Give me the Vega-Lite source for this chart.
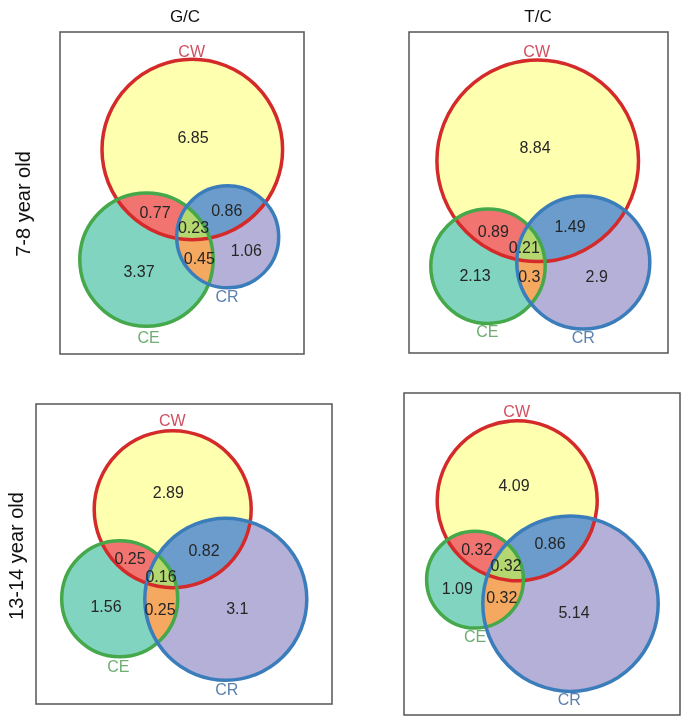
{
  "$schema": "https://vega.github.io/schema/vega-lite/v6.json",
  "width": 685,
  "height": 721,
  "padding": 0,
  "autosize": {"type": "none"},
  "background": "white",
  "config": {"view": {"stroke": null, "fill": "white"}},
  "datasets": {
    "circles": [
      {"panel": "G/C 7-8", "set": "CW", "cx": 192.3, "cy": 149.5, "r": 90.3},
      {"panel": "G/C 7-8", "set": "CE", "cx": 146.5, "cy": 259.6, "r": 66.7},
      {"panel": "G/C 7-8", "set": "CR", "cx": 227.7, "cy": 236.8, "r": 51},
      {"panel": "T/C 7-8", "set": "CW", "cx": 537.7, "cy": 160.8, "r": 100.8},
      {"panel": "T/C 7-8", "set": "CE", "cx": 488, "cy": 266.2, "r": 57.2},
      {"panel": "T/C 7-8", "set": "CR", "cx": 583.3, "cy": 262.5, "r": 66.5},
      {"panel": "G/C 13-14", "set": "CW", "cx": 172.7, "cy": 509.2, "r": 78.5},
      {"panel": "G/C 13-14", "set": "CE", "cx": 119.7, "cy": 598.7, "r": 58},
      {"panel": "G/C 13-14", "set": "CR", "cx": 225.8, "cy": 599.2, "r": 81},
      {"panel": "T/C 13-14", "set": "CW", "cx": 517.2, "cy": 500.8, "r": 80},
      {"panel": "T/C 13-14", "set": "CE", "cx": 475, "cy": 579.7, "r": 48.4},
      {"panel": "T/C 13-14", "set": "CR", "cx": 570.5, "cy": 603.7, "r": 87.7}
    ],
    "numbers": [
      {"panel": "G/C 7-8", "region": "CW", "value": 6.85, "lx": 193, "ly": 138},
      {"panel": "G/C 7-8", "region": "CW&CE", "value": 0.77, "lx": 155, "ly": 212.5},
      {"panel": "G/C 7-8", "region": "CW&CR", "value": 0.86, "lx": 226.7, "ly": 210.5},
      {"panel": "G/C 7-8", "region": "CW&CE&CR", "value": 0.23, "lx": 193.5, "ly": 228.3},
      {"panel": "G/C 7-8", "region": "CE&CR", "value": 0.45, "lx": 199.3, "ly": 259},
      {"panel": "G/C 7-8", "region": "CR", "value": 1.06, "lx": 246.3, "ly": 250.7},
      {"panel": "G/C 7-8", "region": "CE", "value": 3.37, "lx": 139, "ly": 272},
      {"panel": "T/C 7-8", "region": "CW", "value": 8.84, "lx": 535, "ly": 148.3},
      {"panel": "T/C 7-8", "region": "CW&CE", "value": 0.89, "lx": 493.3, "ly": 231.7},
      {"panel": "T/C 7-8", "region": "CW&CR", "value": 1.49, "lx": 570, "ly": 226.7},
      {"panel": "T/C 7-8", "region": "CW&CE&CR", "value": 0.21, "lx": 524.3, "ly": 248.3},
      {"panel": "T/C 7-8", "region": "CE", "value": 2.13, "lx": 475, "ly": 276},
      {"panel": "T/C 7-8", "region": "CE&CR", "value": 0.3, "lx": 529.3, "ly": 277.3},
      {"panel": "T/C 7-8", "region": "CR", "value": 2.9, "lx": 596.7, "ly": 277.3},
      {"panel": "G/C 13-14", "region": "CW", "value": 2.89, "lx": 168.3, "ly": 492.7},
      {"panel": "G/C 13-14", "region": "CW&CE", "value": 0.25, "lx": 130, "ly": 559.3},
      {"panel": "G/C 13-14", "region": "CW&CR", "value": 0.82, "lx": 204, "ly": 550.7},
      {"panel": "G/C 13-14", "region": "CW&CE&CR", "value": 0.16, "lx": 161, "ly": 576.7},
      {"panel": "G/C 13-14", "region": "CE", "value": 1.56, "lx": 106, "ly": 607.3},
      {"panel": "G/C 13-14", "region": "CE&CR", "value": 0.25, "lx": 160, "ly": 610},
      {"panel": "G/C 13-14", "region": "CR", "value": 3.1, "lx": 237.3, "ly": 609.3},
      {"panel": "T/C 13-14", "region": "CW", "value": 4.09, "lx": 514, "ly": 486},
      {"panel": "T/C 13-14", "region": "CW&CE", "value": 0.32, "lx": 476.7, "ly": 550},
      {"panel": "T/C 13-14", "region": "CW&CR", "value": 0.86, "lx": 550, "ly": 544.3},
      {"panel": "T/C 13-14", "region": "CW&CE&CR", "value": 0.32, "lx": 506, "ly": 566},
      {"panel": "T/C 13-14", "region": "CE", "value": 1.09, "lx": 457.3, "ly": 589.3},
      {"panel": "T/C 13-14", "region": "CE&CR", "value": 0.32, "lx": 501.7, "ly": 598.3},
      {"panel": "T/C 13-14", "region": "CR", "value": 5.14, "lx": 574, "ly": 613.3}
    ],
    "setlabels": [
      {"panel": "G/C 7-8", "set": "CW", "lx": 191.7, "ly": 51.7},
      {"panel": "G/C 7-8", "set": "CE", "lx": 148.5, "ly": 337.5},
      {"panel": "G/C 7-8", "set": "CR", "lx": 227, "ly": 296.7},
      {"panel": "T/C 7-8", "set": "CW", "lx": 536.7, "ly": 51.7},
      {"panel": "T/C 7-8", "set": "CE", "lx": 487.3, "ly": 331.7},
      {"panel": "T/C 7-8", "set": "CR", "lx": 583.3, "ly": 338.3},
      {"panel": "G/C 13-14", "set": "CW", "lx": 172.3, "ly": 421},
      {"panel": "G/C 13-14", "set": "CE", "lx": 118.3, "ly": 667.3},
      {"panel": "G/C 13-14", "set": "CR", "lx": 226.7, "ly": 690},
      {"panel": "T/C 13-14", "set": "CW", "lx": 516.7, "ly": 411.7},
      {"panel": "T/C 13-14", "set": "CE", "lx": 475, "ly": 637.3},
      {"panel": "T/C 13-14", "set": "CR", "lx": 569.3, "ly": 700}
    ],
    "boxes": [
      {"panel": "G/C 7-8", "x0": 60, "y0": 32, "x1": 304, "y1": 354},
      {"panel": "T/C 7-8", "x0": 409, "y0": 32, "x1": 668, "y1": 353},
      {"panel": "G/C 13-14", "x0": 36, "y0": 404, "x1": 332, "y1": 704},
      {"panel": "T/C 13-14", "x0": 404, "y0": 393, "x1": 680, "y1": 715}
    ],
    "titles": [
      {"text": "G/C", "tx": 185, "ty": 17},
      {"text": "T/C", "tx": 538, "ty": 17}
    ],
    "rowlabels": [
      {"text": "7-8 year old", "tx": 24, "ty": 204},
      {"text": "13-14 year old", "tx": 16.5, "ty": 556}
    ]
  },
  "resolve": {"scale": {"color": "independent"}},
  "layer": [
    {
      "data": {"name": "circles"},
      "encoding": {
        "x": {"field": "cx", "type": "quantitative", "scale": {"domain": [0, 685], "nice": false, "zero": false}, "axis": null},
        "y": {"field": "cy", "type": "quantitative", "scale": {"domain": [0, 721], "nice": false, "zero": false, "reverse": true}, "axis": null},
        "size": {"field": "r", "type": "quantitative", "scale": {"type": "pow", "exponent": 2, "domain": [0, 200], "range": [0, 160000]}, "legend": null}
      },
      "layer": [
        {"transform": [{"filter": {"field": "set", "equal": "CE"}}], "mark": {"type": "point", "shape": "circle", "filled": true, "opacity": 1, "strokeWidth": 0, "blend": "multiply", "color": "#0000ff"}},
        {"transform": [{"filter": {"field": "set", "equal": "CE"}}], "mark": {"type": "point", "shape": "circle", "filled": true, "opacity": 1, "strokeWidth": 0, "blend": "screen", "color": "#1cb700"}},
        {"transform": [{"filter": {"field": "set", "equal": "CR"}}], "mark": {"type": "point", "shape": "circle", "filled": true, "opacity": 1, "strokeWidth": 0, "blend": "screen", "color": "#6eca00"}},
        {"transform": [{"filter": {"field": "set", "equal": "CE"}}], "mark": {"type": "point", "shape": "circle", "filled": true, "opacity": 1, "strokeWidth": 0, "blend": "difference", "color": "#ffff00"}},
        {"transform": [{"filter": {"field": "set", "equal": "CR"}}], "mark": {"type": "point", "shape": "circle", "filled": true, "opacity": 1, "strokeWidth": 0, "blend": "multiply", "color": "#579cff"}},
        {"transform": [{"filter": {"field": "set", "equal": "CE"}}], "mark": {"type": "point", "shape": "circle", "filled": true, "opacity": 1, "strokeWidth": 0, "blend": "difference", "color": "#ffff00"}},
        {"transform": [{"filter": {"field": "set", "equal": "CW"}}], "mark": {"type": "point", "shape": "circle", "filled": true, "opacity": 1, "strokeWidth": 0, "blend": "screen", "color": "#ffff00"}},
        {"transform": [{"filter": {"field": "set", "equal": "CW"}}], "mark": {"type": "point", "shape": "circle", "filled": true, "opacity": 1, "strokeWidth": 0, "blend": "difference", "color": "#00ff00"}},
        {"transform": [{"filter": {"field": "set", "equal": "CR"}}], "mark": {"type": "point", "shape": "circle", "filled": true, "opacity": 1, "strokeWidth": 0, "blend": "difference", "color": "#00ff00"}},
        {"transform": [{"filter": {"field": "set", "equal": "CE"}}], "mark": {"type": "point", "shape": "circle", "filled": true, "opacity": 1, "strokeWidth": 0, "blend": "screen", "color": "#006700"}},
        {"transform": [{"filter": {"field": "set", "equal": "CR"}}], "mark": {"type": "point", "shape": "circle", "filled": true, "opacity": 1, "strokeWidth": 0, "blend": "difference", "color": "#00ff00"}},
        {"transform": [{"filter": {"field": "set", "equal": "CW"}}], "mark": {"type": "point", "shape": "circle", "filled": true, "opacity": 1, "strokeWidth": 0, "blend": "difference", "color": "#ff0000"}},
        {"transform": [{"filter": {"field": "set", "equal": "CR"}}], "mark": {"type": "point", "shape": "circle", "filled": true, "opacity": 1, "strokeWidth": 0, "blend": "screen", "color": "#8d3300"}},
        {"transform": [{"filter": {"field": "set", "equal": "CW"}}], "mark": {"type": "point", "shape": "circle", "filled": true, "opacity": 1, "strokeWidth": 0, "blend": "difference", "color": "#ffff00"}},
        {"transform": [{"filter": {"field": "set", "equal": "CE"}}], "mark": {"type": "point", "shape": "circle", "filled": true, "opacity": 1, "strokeWidth": 0, "blend": "screen", "color": "#700000"}},
        {"transform": [{"filter": {"field": "set", "equal": "CE"}}], "mark": {"type": "point", "shape": "circle", "filled": true, "opacity": 1, "strokeWidth": 0, "blend": "difference", "color": "#ffff00"}},
        {"transform": [{"filter": {"field": "set", "equal": "CR"}}], "mark": {"type": "point", "shape": "circle", "filled": true, "opacity": 1, "strokeWidth": 0, "blend": "difference", "color": "#ffff00"}},
        {"transform": [{"filter": {"field": "set", "equal": "CW"}}], "mark": {"type": "point", "shape": "circle", "filled": true, "opacity": 1, "strokeWidth": 0, "blend": "screen", "color": "#0d3c00"}},
        {"transform": [{"filter": {"field": "set", "equal": "CR"}}], "mark": {"type": "point", "shape": "circle", "filled": true, "opacity": 1, "strokeWidth": 0, "blend": "difference", "color": "#ffff00"}},
        {"transform": [{"filter": {"field": "set", "equal": "CE"}}], "mark": {"type": "point", "shape": "circle", "filled": true, "opacity": 1, "strokeWidth": 0, "blend": "difference", "color": "#ffff00"}},
        {"transform": [{"filter": {"field": "set", "equal": "CW"}}], "mark": {"type": "point", "shape": "circle", "filled": true, "opacity": 1, "strokeWidth": 0, "blend": "multiply", "color": "#ffff00"}},
        {"transform": [{"filter": {"field": "set", "equal": "CW"}}], "mark": {"type": "point", "shape": "circle", "filled": true, "opacity": 1, "strokeWidth": 0, "blend": "screen", "color": "#00006b"}},
        {"transform": [{"filter": {"field": "set", "equal": "CR"}}], "mark": {"type": "point", "shape": "circle", "filled": true, "opacity": 1, "strokeWidth": 0, "blend": "screen", "color": "#00003e"}},
        {"transform": [{"filter": {"field": "set", "equal": "CR"}}], "mark": {"type": "point", "shape": "circle", "filled": true, "opacity": 1, "strokeWidth": 0, "blend": "multiply", "color": "#ffffc2"}},
        {"transform": [{"filter": {"field": "set", "equal": "CW"}}], "mark": {"type": "point", "shape": "circle", "filled": true, "opacity": 1, "strokeWidth": 0, "blend": "difference", "color": "#0000ff"}},
        {"transform": [{"filter": {"field": "set", "equal": "CE"}}], "mark": {"type": "point", "shape": "circle", "filled": true, "opacity": 1, "strokeWidth": 0, "blend": "multiply", "color": "#ffff00"}},
        {"transform": [{"filter": {"field": "set", "equal": "CE"}}], "mark": {"type": "point", "shape": "circle", "filled": true, "opacity": 1, "strokeWidth": 0, "blend": "screen", "color": "#0000b4"}},
        {"transform": [{"filter": {"field": "set", "equal": "CE"}}], "mark": {"type": "point", "shape": "circle", "filled": true, "opacity": 1, "strokeWidth": 0, "blend": "difference", "color": "#0000ff"}},
        {"transform": [{"filter": {"field": "set", "equal": "CW"}}], "mark": {"type": "point", "shape": "circle", "filled": true, "opacity": 1, "strokeWidth": 0, "blend": "screen", "color": "#000042"}},
        {"transform": [{"filter": {"field": "set", "equal": "CR"}}], "mark": {"type": "point", "shape": "circle", "filled": true, "opacity": 1, "strokeWidth": 0, "blend": "screen", "color": "#00005d"}},
        {"transform": [{"filter": {"field": "set", "equal": "CE"}}], "mark": {"type": "point", "shape": "circle", "filled": true, "opacity": 1, "strokeWidth": 0, "blend": "difference", "color": "#0000ff"}},
        {"transform": [{"filter": {"field": "set", "equal": "CW"}}], "mark": {"type": "point", "shape": "circle", "filled": true, "opacity": 1, "strokeWidth": 0, "blend": "difference", "color": "#0000ff"}},
        {"transform": [{"filter": {"field": "set", "equal": "CR"}}], "mark": {"type": "point", "shape": "circle", "filled": true, "opacity": 1, "strokeWidth": 0, "blend": "difference", "color": "#0000ff"}},
        {"transform": [{"filter": {"field": "set", "equal": "CE"}}], "mark": {"type": "point", "shape": "circle", "filled": true, "opacity": 1, "strokeWidth": 0, "blend": "screen", "color": "#000029"}},
        {"transform": [{"filter": {"field": "set", "equal": "CR"}}], "mark": {"type": "point", "shape": "circle", "filled": true, "opacity": 1, "strokeWidth": 0, "blend": "difference", "color": "#0000ff"}},
        {"transform": [{"filter": {"field": "set", "equal": "CW"}}], "mark": {"type": "point", "shape": "circle", "filled": true, "opacity": 1, "strokeWidth": 0, "blend": "difference", "color": "#0000ff"}},
        {
          "mark": {"type": "point", "shape": "circle", "filled": false, "opacity": 1, "strokeWidth": 3.5},
          "encoding": {
            "color": {"field": "set", "type": "nominal", "scale": {"domain": ["CW", "CE", "CR"], "range": ["#d42a2a", "#45a84a", "#3b7dbb"]}, "legend": null}
          }
        }
      ]
    },
    {
      "data": {"name": "boxes"},
      "mark": {"type": "rect", "filled": false, "color": "#555555", "strokeWidth": 1.5},
      "encoding": {
        "x": {"field": "x0", "type": "quantitative", "scale": {"domain": [0, 685], "nice": false, "zero": false}, "axis": null},
        "x2": {"field": "x1"},
        "y": {"field": "y0", "type": "quantitative", "scale": {"domain": [0, 721], "nice": false, "zero": false, "reverse": true}, "axis": null},
        "y2": {"field": "y1"}
      }
    },
    {
      "data": {"name": "numbers"},
      "mark": {"type": "text", "font": "Liberation Sans", "fontSize": 16, "color": "#262626", "align": "center", "baseline": "middle"},
      "encoding": {
        "x": {"field": "lx", "type": "quantitative", "scale": {"domain": [0, 685], "nice": false, "zero": false}, "axis": null},
        "y": {"field": "ly", "type": "quantitative", "scale": {"domain": [0, 721], "nice": false, "zero": false, "reverse": true}, "axis": null},
        "text": {"field": "value", "type": "nominal"}
      }
    },
    {
      "data": {"name": "setlabels"},
      "mark": {"type": "text", "font": "Liberation Sans", "fontSize": 16, "align": "center", "baseline": "middle"},
      "encoding": {
        "x": {"field": "lx", "type": "quantitative", "scale": {"domain": [0, 685], "nice": false, "zero": false}, "axis": null},
        "y": {"field": "ly", "type": "quantitative", "scale": {"domain": [0, 721], "nice": false, "zero": false, "reverse": true}, "axis": null},
        "text": {"field": "set", "type": "nominal"},
        "color": {"field": "set", "type": "nominal", "scale": {"domain": ["CW", "CE", "CR"], "range": ["#cf5060", "#6fae72", "#5c81ad"]}, "legend": null}
      }
    },
    {
      "data": {"name": "titles"},
      "mark": {"type": "text", "font": "Liberation Sans", "fontSize": 17, "color": "#111111", "align": "center", "baseline": "middle"},
      "encoding": {
        "x": {"field": "tx", "type": "quantitative", "scale": {"domain": [0, 685], "nice": false, "zero": false}, "axis": null},
        "y": {"field": "ty", "type": "quantitative", "scale": {"domain": [0, 721], "nice": false, "zero": false, "reverse": true}, "axis": null},
        "text": {"field": "text", "type": "nominal"}
      }
    },
    {
      "data": {"name": "rowlabels"},
      "mark": {"type": "text", "font": "Liberation Sans", "fontSize": 20, "color": "#111111", "align": "center", "baseline": "middle", "angle": 270},
      "encoding": {
        "x": {"field": "tx", "type": "quantitative", "scale": {"domain": [0, 685], "nice": false, "zero": false}, "axis": null},
        "y": {"field": "ty", "type": "quantitative", "scale": {"domain": [0, 721], "nice": false, "zero": false, "reverse": true}, "axis": null},
        "text": {"field": "text", "type": "nominal"}
      }
    }
  ]
}
